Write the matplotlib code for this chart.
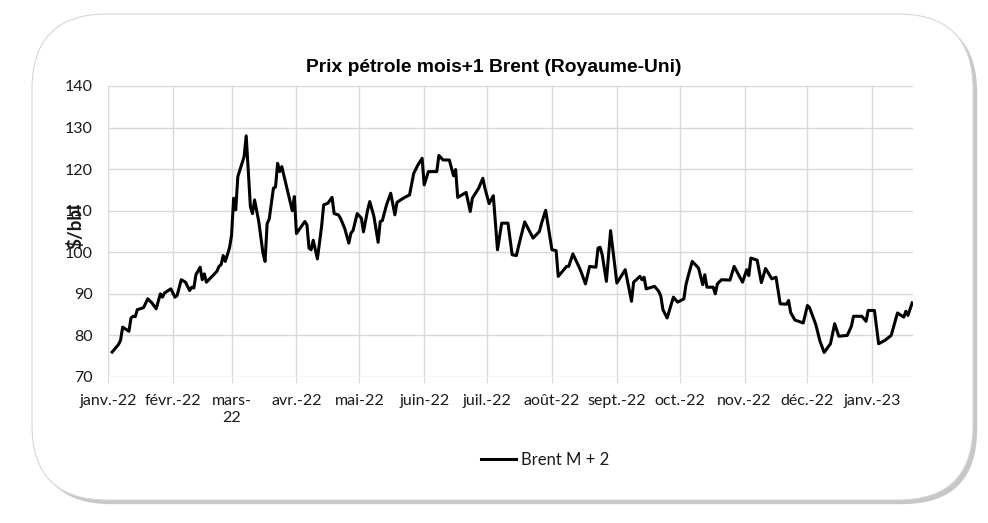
import matplotlib
matplotlib.use("Agg")
import matplotlib.pyplot as plt
import matplotlib.patheffects as pe
from matplotlib.patches import FancyBboxPatch
import pandas as pd

# Brent M+2, $/bbl
dates = [
    "2022-01-03", "2022-01-06", "2022-01-07", "2022-01-08", "2022-01-11", "2022-01-12",
    "2022-01-13", "2022-01-14", "2022-01-15", "2022-01-17", "2022-01-18", "2022-01-20",
    "2022-01-22", "2022-01-24", "2022-01-26", "2022-01-27", "2022-01-28", "2022-01-31",
    "2022-02-02", "2022-02-03", "2022-02-05", "2022-02-07", "2022-02-09", "2022-02-10",
    "2022-02-11", "2022-02-12", "2022-02-14", "2022-02-15", "2022-02-16", "2022-02-17",
    "2022-02-22", "2022-02-23", "2022-02-24", "2022-02-25", "2022-02-26", "2022-02-28",
    "2022-03-01", "2022-03-02", "2022-03-03", "2022-03-04", "2022-03-07", "2022-03-08",
    "2022-03-10", "2022-03-11", "2022-03-12", "2022-03-14", "2022-03-16", "2022-03-17",
    "2022-03-18", "2022-03-19", "2022-03-21", "2022-03-22", "2022-03-23", "2022-03-24",
    "2022-03-25", "2022-03-28", "2022-03-30", "2022-03-31", "2022-04-01", "2022-04-05",
    "2022-04-06", "2022-04-07", "2022-04-08", "2022-04-09", "2022-04-11", "2022-04-13",
    "2022-04-14", "2022-04-16", "2022-04-18", "2022-04-19", "2022-04-21", "2022-04-22",
    "2022-04-24", "2022-04-26", "2022-04-27", "2022-04-28", "2022-04-30", "2022-05-02",
    "2022-05-03", "2022-05-05", "2022-05-06", "2022-05-08", "2022-05-10", "2022-05-11",
    "2022-05-12", "2022-05-14", "2022-05-16", "2022-05-18", "2022-05-19", "2022-05-22",
    "2022-05-25", "2022-05-27", "2022-05-29", "2022-05-31", "2022-06-01", "2022-06-03",
    "2022-06-07", "2022-06-08", "2022-06-10", "2022-06-13", "2022-06-15", "2022-06-16",
    "2022-06-17", "2022-06-21", "2022-06-23", "2022-06-24", "2022-06-27", "2022-06-29",
    "2022-06-30", "2022-07-02", "2022-07-04", "2022-07-06", "2022-07-08", "2022-07-11",
    "2022-07-13", "2022-07-15", "2022-07-17", "2022-07-19", "2022-07-23", "2022-07-26",
    "2022-07-27", "2022-07-29", "2022-08-01", "2022-08-03", "2022-08-04", "2022-08-08",
    "2022-08-09", "2022-08-11", "2022-08-14", "2022-08-15", "2022-08-17", "2022-08-19",
    "2022-08-22", "2022-08-23", "2022-08-24", "2022-08-25", "2022-08-27", "2022-08-29",
    "2022-09-01", "2022-09-05", "2022-09-08", "2022-09-09", "2022-09-12", "2022-09-13",
    "2022-09-14", "2022-09-15", "2022-09-19", "2022-09-21", "2022-09-22", "2022-09-23",
    "2022-09-25", "2022-09-28", "2022-09-30", "2022-10-03", "2022-10-04", "2022-10-05",
    "2022-10-07", "2022-10-10", "2022-10-12", "2022-10-13", "2022-10-14", "2022-10-17",
    "2022-10-18", "2022-10-19", "2022-10-21", "2022-10-25", "2022-10-27", "2022-10-31",
    "2022-11-02", "2022-11-03", "2022-11-04", "2022-11-07", "2022-11-09", "2022-11-11",
    "2022-11-14", "2022-11-16", "2022-11-18", "2022-11-21", "2022-11-22", "2022-11-23",
    "2022-11-25", "2022-11-29", "2022-12-01", "2022-12-02", "2022-12-05", "2022-12-07",
    "2022-12-09", "2022-12-12", "2022-12-14", "2022-12-16", "2022-12-20", "2022-12-22",
    "2022-12-23", "2022-12-27", "2022-12-29", "2022-12-30", "2023-01-02", "2023-01-04",
    "2023-01-07", "2023-01-10", "2023-01-13", "2023-01-16", "2023-01-17", "2023-01-18",
    "2023-01-20",
]
brent_m2 = [
    76.0, 77.8, 78.8, 82.0, 81.0, 84.2,
    84.6, 84.5, 86.2, 86.5, 86.7, 88.8,
    87.8, 86.4, 90.0, 89.2, 90.2, 91.2,
    89.2, 89.6, 93.4, 92.8, 90.8, 91.6,
    91.4, 94.6, 96.4, 93.4, 94.8, 92.8,
    95.4, 96.6, 97.0, 99.2, 97.8, 101.0,
    104.0, 113.0, 110.2, 118.2, 123.0, 128.0,
    111.0, 109.3, 112.6, 107.4, 99.8, 97.8,
    106.9, 108.0, 115.4, 115.7, 121.4, 119.4,
    120.6, 114.2, 110.0, 113.4, 104.5, 107.4,
    106.6, 101.0, 100.6, 102.9, 98.4, 106.2,
    111.4, 111.8, 113.2, 109.3, 109.0, 108.2,
    105.8, 102.2, 104.6, 105.2, 109.3, 108.2,
    104.9, 110.2, 112.2, 108.6, 102.4, 107.4,
    107.6, 111.4, 114.2, 109.0, 112.0, 113.0,
    113.8, 119.0, 121.0, 122.6, 116.2, 119.4,
    119.4, 123.3, 122.2, 122.2, 118.4, 119.9,
    113.2, 114.4, 109.8, 113.0, 115.4, 117.8,
    115.4, 111.7, 113.6, 100.6, 107.0, 107.0,
    99.4, 99.2, 103.4, 107.3, 103.4, 105.0,
    106.9, 110.1, 100.6, 100.4, 94.2, 96.6,
    96.6, 99.6, 96.4, 95.2, 92.4, 96.6,
    96.4, 101.0, 101.2, 99.4, 93.0, 105.2,
    92.6, 95.8, 88.2, 92.8, 94.2, 93.4,
    94.0, 91.2, 91.8, 90.6, 89.4, 86.2,
    84.2, 89.2, 88.0, 88.8, 92.2, 94.2,
    97.8, 96.2, 92.2, 94.6, 91.6, 91.6,
    90.0, 92.4, 93.4, 93.3, 96.6, 92.8,
    95.8, 94.4, 98.6, 98.1, 92.7, 96.1,
    93.6, 94.0, 87.6, 87.5, 88.4, 85.5,
    83.7, 83.0, 87.2, 86.7, 82.6, 78.6,
    75.9, 78.0, 82.8, 79.8, 80.0, 82.2,
    84.6, 84.6, 83.4, 86.0, 86.0, 78.0,
    78.8, 80.0, 85.4, 84.4, 85.8, 84.8,
    87.8,
]
month_labels = ["janv.-22", "févr.-22", "mars-\n22", "avr.-22", "mai-22", "juin-22",
                "juil.-22", "août-22", "sept.-22", "oct.-22", "nov.-22", "déc.-22",
                "janv.-23"]
y_ticks = [70, 80, 90, 100, 110, 120, 130, 140]

x = pd.to_datetime(dates)
month_starts = pd.date_range("2022-01-01", periods=len(month_labels), freq="MS")

fig = plt.figure(figsize=(9.88, 5.23), dpi=100)

# rounded frame with a soft shadow, sized in inches so the corners stay round
frame = FancyBboxPatch((0.32, 0.23), 9.41, 4.86,
                       boxstyle="round,pad=0,rounding_size=0.75",
                       transform=fig.dpi_scale_trans,
                       facecolor="white", edgecolor="#d6d6d6", linewidth=0.8,
                       zorder=0)
frame.set_path_effects([pe.SimplePatchShadow(offset=(3, -3), shadow_rgbFace="#9a9a9a", alpha=0.55),
                        pe.Normal()])
fig.add_artist(frame)

ax = fig.add_axes([0.1093, 0.2792, 0.8148, 0.5564])
ax.set_facecolor("none")
ax.plot(x, brent_m2, color="black", linewidth=2.2, label="Brent M + 2")

ax.set_xlim(pd.Timestamp("2022-01-01"), pd.Timestamp("2023-01-20 10:00"))
ax.set_ylim(70, 140)
ax.set_yticks(y_ticks)
ax.set_xticks(month_starts)
ax.set_xticklabels(month_labels, linespacing=1.3)

ax.grid(True, color="#d9d9d9", linewidth=1.0)
ax.set_axisbelow(True)
for s in ax.spines.values():
    s.set_visible(False)
ax.tick_params(axis="y", length=0, pad=11, labelsize=11.5, labelcolor="#1a1a1a")
ax.tick_params(axis="x", length=4, color="#d9d9d9", pad=8, labelsize=11.5, labelcolor="#1a1a1a")
for lab in ax.get_xticklabels() + ax.get_yticklabels():
    lab.set_fontfamily("Lato")

fig.text(0.5, 0.87, "Prix pétrole mois+1 Brent (Royaume-Uni)", ha="center", va="center",
         fontsize=13.9, fontweight="bold", family="Liberation Sans")
fig.text(0.076, 0.568, "$/bbl", rotation=90, ha="center", va="center",
         fontsize=13.5, fontweight="bold", family="Lato", color="#1a1a1a")

leg = fig.legend(loc="center", bbox_to_anchor=(0.552, 0.121), frameon=False,
                 handlelength=2.1, handletextpad=0.3, prop={"family": "Lato", "size": 12})
for t in leg.get_texts():
    t.set_color("#1a1a1a")

fig.savefig("out.png", dpi=100)
